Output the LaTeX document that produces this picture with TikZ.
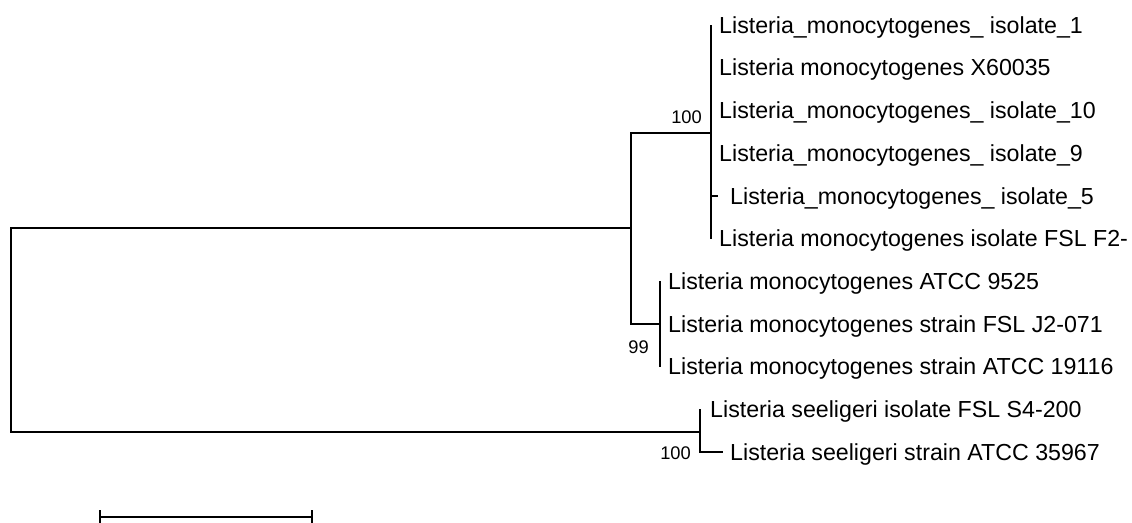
\documentclass[tikz,border=0pt]{standalone}
\usepackage{fontspec}
\setmainfont{Liberation Sans}
\usetikzlibrary{positioning}

\tikzset{
	branch/.style={line width=2.5pt},
	taxon/.style={anchor=base west, inner sep=0pt, xshift=8pt, yshift=-8.2pt, font=\fontsize{23.2}{28}\selectfont},
	boot/.style={anchor=base east, inner sep=0pt, font=\fontsize{18.3}{22}\selectfont}
}

\begin{document}
\begin{tikzpicture}[x=1pt, y=-1pt]
				\clip (0, 0) rectangle (1132, 522);
				
				% internal nodes
				\coordinate (root) at (11, 330);
				\coordinate (n1) at (631, 228);
				\coordinate (nmono) at (711, 133);
				\coordinate (n99) at (660, 324);
				\coordinate (nsee) at (700, 432);
				
				% tips
				\coordinate (t1) at (711, 25);
				\coordinate (t2) at (711, 67.7);
				\coordinate (t3) at (711, 110.4);
				\coordinate (t4) at (711, 153.1);
				\coordinate (t5) at (718, 195.8);
				\coordinate (t6) at (711, 238.5);
				\coordinate (t7) at (660, 281.2);
				\coordinate (t8) at (660, 323.9);
				\coordinate (t9) at (660, 366.6);
				\coordinate (t10) at (700, 409.3);
				\coordinate (t11) at (723, 452);
				
				\draw[branch] (root) |- (n1);
				\draw[branch] (root) |- (nsee);
				\draw[branch] (n1) |- (nmono);
				\draw[branch] (n1) |- (n99);
				\foreach \i in {1,...,6}
					\draw[branch] (nmono) |- (t\i);
				\foreach \i in {7,8,9}
					\draw[branch] (n99) |- (t\i);
				\foreach \i in {10,11}
					\draw[branch] (nsee) |- (t\i);
				
				\node[taxon] (l1) at (t1) {Listeria\_monocytogenes\_ isolate\_1};
				\node[taxon] (l2) at (t2) {Listeria monocytogenes X60035};
				\node[taxon] (l3) at (t3) {Listeria\_monocytogenes\_ isolate\_10};
				\node[taxon] (l4) at (t4) {Listeria\_monocytogenes\_ isolate\_9};
				\node[taxon, xshift=4pt] (l5) at (t5) {Listeria\_monocytogenes\_ isolate\_5};
				\node[taxon] (l6) at (t6) {Listeria monocytogenes isolate FSL F2-};
				\node[taxon] (l7) at (t7) {Listeria monocytogenes ATCC 9525};
				\node[taxon] (l8) at (t8) {Listeria monocytogenes strain FSL J2-071};
				\node[taxon] (l9) at (t9) {Listeria monocytogenes strain ATCC 19116};
				\node[taxon, xshift=2pt] (l10) at (t10) {Listeria seeligeri isolate FSL S4-200};
				\node[taxon, xshift=-1pt] (l11) at (t11) {Listeria seeligeri strain ATCC 35967};
				
				% bootstrap values
				\node[boot, xshift=-9pt, yshift=9.5pt] (b1) at (nmono) {100};
				\node[boot, xshift=-11pt, yshift=-29.5pt] (b2) at (n99) {99};
				\node[boot, xshift=-9pt, yshift=-27.5pt] (b3) at (nsee) {100};
				
				% scale bar
				\coordinate (sbl) at (100, 517);
				\coordinate (sbr) at (312, 517);
				\draw[branch] (sbl) -- (sbr);
				\draw[branch] ([yshift=7pt]sbl) -- ([yshift=-7pt]sbl);
				\draw[branch] ([yshift=7pt]sbr) -- ([yshift=-7pt]sbr);
\end{tikzpicture}
\end{document}
